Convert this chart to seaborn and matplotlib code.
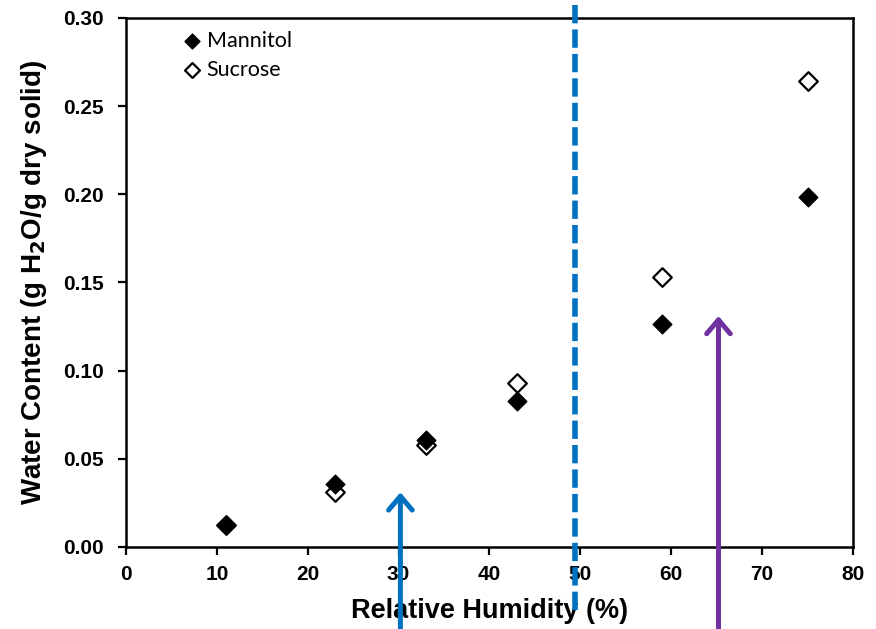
import matplotlib
matplotlib.use('Agg')
import matplotlib.pyplot as plt
import seaborn as sns
import pandas as pd

# Data
rh_mannitol = [11, 23, 33, 43, 59, 75]
wc_mannitol = [0.0125, 0.0357, 0.0607, 0.0828, 0.1265, 0.1985]
rh_sucrose = [11, 23, 33, 43, 59, 75]
wc_sucrose = [0.0125, 0.031, 0.058, 0.093, 0.153, 0.264]

x_ticks = [0, 10, 20, 30, 40, 50, 60, 70, 80]
y_ticks = [0.00, 0.05, 0.10, 0.15, 0.20, 0.25, 0.30]

# annotation positions (data units)
dashed_x = 49.4
blue_arrow = (30.2, 0.031)
purple_arrow = (65.2, 0.131)

mannitol = pd.DataFrame({'RH': rh_mannitol, 'WC': wc_mannitol})
sucrose = pd.DataFrame({'RH': rh_sucrose, 'WC': wc_sucrose})

sns.set_style('ticks')
plt.rcParams['font.family'] = ['Liberation Sans', 'DejaVu Sans']
plt.rcParams['text.color'] = 'black'
plt.rcParams['axes.labelcolor'] = 'black'
plt.rcParams['xtick.color'] = 'black'
plt.rcParams['ytick.color'] = 'black'

fig = plt.figure(figsize=(8.76, 6.29), dpi=100)
ax = fig.add_axes([0.1438, 0.1304, 0.8299, 0.8410])

sns.scatterplot(data=sucrose, x='RH', y='WC', marker='D', s=90, color='white',
                edgecolor='black', linewidth=1.6, ax=ax, label='Sucrose', zorder=3)
sns.scatterplot(data=mannitol, x='RH', y='WC', marker='D', s=90, color='black',
                edgecolor='black', linewidth=1.0, ax=ax, label='Mannitol', zorder=4)

ax.set_xlim(0, 80)
ax.set_ylim(0, 0.30)
ax.set_xticks(x_ticks)
ax.set_yticks(y_ticks)
ax.set_xticklabels([str(t) for t in x_ticks], fontsize=15, fontweight='bold')
ax.set_yticklabels(['%.2f' % t for t in y_ticks], fontsize=15, fontweight='bold')
ax.tick_params(direction='out', length=6, width=1.6, color='black', pad=7)
ax.tick_params(axis='y', pad=10)
for sp in ax.spines.values():
    sp.set_visible(True)
    sp.set_linewidth(1.8)
    sp.set_color('black')

ax.set_xlabel('Relative Humidity (%)', fontsize=19.5, fontweight='bold', labelpad=10)
ax.set_ylabel('Water Content (g H$_\\mathbf{2}$O/g dry solid)', fontsize=20,
              fontweight='bold', labelpad=10)

# legend: Mannitol first
handles, labels = ax.get_legend_handles_labels()
order = [labels.index('Mannitol'), labels.index('Sucrose')]
ax.legend([handles[i] for i in order], [labels[i] for i in order],
          loc='upper left', bbox_to_anchor=(0.043, 1.0), frameon=False,
          prop={'family': ['Lato', 'DejaVu Sans'], 'size': 15.5},
          handletextpad=-0.3, labelspacing=0.4, borderaxespad=0.2,
          markerscale=0.8)

# dashed vertical line running past the axes
ax.plot([dashed_x, dashed_x], [-0.036, 0.32], color='#0070C0', lw=4,
        dashes=(3.3, 1.1), clip_on=False, zorder=5)

# arrows coming up from below the axes
for (ax_x, ax_y), col in [(blue_arrow, '#0070C0'), (purple_arrow, '#7030A0')]:
    ax.annotate('', xy=(ax_x, ax_y), xytext=(ax_x, -0.06),
                arrowprops=dict(arrowstyle='->,head_length=1.0,head_width=0.85',
                                color=col, lw=3.6, shrinkA=0, shrinkB=0),
                annotation_clip=False, zorder=6)

fig.savefig('out.png', dpi=100)
